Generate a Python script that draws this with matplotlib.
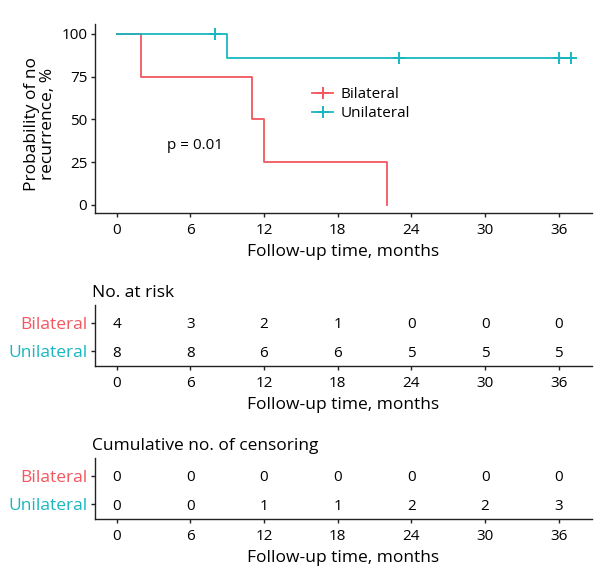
import matplotlib
matplotlib.use("Agg")
import matplotlib.pyplot as plt
from matplotlib.lines import Line2D

plt.rcParams['font.family'] = ['Open Sans', 'DejaVu Sans']

# ---- data ----
groups = ["Bilateral", "Unilateral"]
colors = ["#F3565E", "#18B7BF"]

bil_times = [0, 2, 11, 12, 22]
bil_surv = [100, 75, 50, 25, 0]
bil_end = 22

uni_times = [0, 9]
uni_surv = [100, 85.7]
uni_end = 37
uni_censor_t = [8, 23, 36, 37]
uni_censor_s = [100, 85.7, 85.7, 85.7]

ticks = [0, 6, 12, 18, 24, 30, 36]
risk_bil = [4, 3, 2, 1, 0, 0, 0]
risk_uni = [8, 8, 6, 6, 5, 5, 5]
cens_bil = [0, 0, 0, 0, 0, 0, 0]
cens_uni = [0, 0, 1, 1, 2, 2, 3]

xlabel = "Follow-up time, months"
xlim = (-1.75, 38.7)

W, H = 600, 575
fig = plt.figure(figsize=(6, 5.75), dpi=100)

axcol = "#222222"
tickfs = 11
labfs = 12.5

L, R = 95 / W, 592 / W

def frac(top_px, bot_px):
    return [L, 1 - bot_px / H, R - L, (bot_px - top_px) / H]

def style(ax):
    for s in ["top", "right"]:
        ax.spines[s].set_visible(False)
    for s in ["left", "bottom"]:
        ax.spines[s].set_color(axcol)
        ax.spines[s].set_linewidth(1.0)
    ax.tick_params(colors=axcol, labelcolor="black", labelsize=tickfs, length=3, width=1)
    ax.tick_params(axis="x", pad=4.5)
    ax.tick_params(axis="y", pad=2.5)

# main KM plot
ax = fig.add_axes(frac(24, 213))
style(ax)

def km_xy(times, surv, end):
    xs, ys = [], []
    for i, t in enumerate(times):
        xs.append(t)
        ys.append(surv[i - 1] if i > 0 else surv[0])
        xs.append(t)
        ys.append(surv[i])
    xs.append(end)
    ys.append(surv[-1])
    return xs, ys

bx, by = km_xy(bil_times, bil_surv, bil_end)
ux, uy = km_xy(uni_times, uni_surv, uni_end)
ax.plot(bx, by, color=colors[0], lw=1.3)
ax.plot(ux, uy, color=colors[1], lw=1.3)
ax.plot(uni_censor_t, uni_censor_s, ls="none", marker="+", ms=9, mew=1.4, color=colors[1])

ax.set_xlim(*xlim)
ax.set_ylim(-4.7, 105.8)
ax.set_xticks(ticks)
ax.set_yticks([0, 25, 50, 75, 100])
ax.set_xlabel(xlabel, fontsize=labfs, labelpad=4)
ax.set_ylabel("Probability of no\nrecurrence, %", fontsize=labfs, linespacing=1.0)
ax.yaxis.set_label_coords(-0.078, 0.47)
ax.text(4.07, 35.0, "p = 0.01", fontsize=tickfs, va="center", ha="left")

handles = [Line2D([], [], color=c, lw=1.3, marker="+", ms=9, mew=1.4) for c in colors]
leg = ax.legend(handles, groups, loc="upper left", bbox_to_anchor=(0.424, 0.697), frameon=False,
                fontsize=tickfs, handlelength=1.4, handletextpad=0.5, labelspacing=0.25,
                borderaxespad=0)

def table(top_px, bot_px, title, vals_b, vals_u):
    t = fig.add_axes(frac(top_px, bot_px))
    style(t)
    t.set_xlim(*xlim)
    t.set_ylim(0.48, 2.62)
    t.set_xticks(ticks)
    t.set_yticks([2, 1])
    t.set_yticklabels(groups)
    for lab, c in zip(t.get_yticklabels(), colors):
        lab.set_color(c)
        lab.set_fontsize(labfs)
    for x, vb, vu in zip(ticks, vals_b, vals_u):
        t.text(x, 2, str(vb), ha="center", va="center_baseline", fontsize=tickfs)
        t.text(x, 1, str(vu), ha="center", va="center_baseline", fontsize=tickfs)
    t.set_xlabel(xlabel, fontsize=labfs, labelpad=4)
    t.set_title(title, loc="left", fontsize=labfs, pad=6, x=-0.006)
    return t

table(305, 366, "No. at risk", risk_bil, risk_uni)
table(458, 519, "Cumulative no. of censoring", cens_bil, cens_uni)

fig.savefig("out.png", dpi=100)
